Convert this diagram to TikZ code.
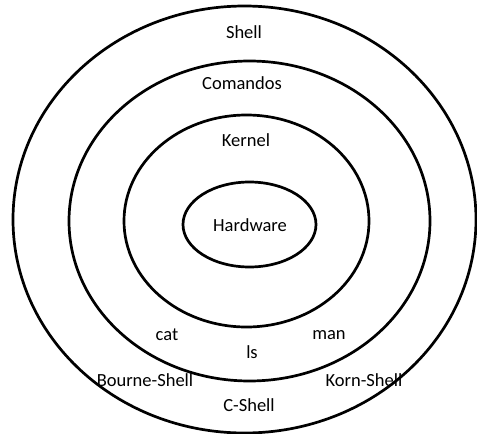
\documentclass[tikz,border=0pt]{standalone}
\usepackage{fontspec}
\setmainfont{Carlito}
\begin{document}
\begin{tikzpicture}[x=1pt,y=-1pt,
  ring/.style={draw=black,line width=2.7pt},
  lbl/.style={font=\fontsize{18.5}{20}\selectfont,inner sep=0pt,anchor=center}]
\useasboundingbox (0,0) rectangle (477,434);
\draw[ring] (244.5,219.5) ellipse [x radius=231.5, y radius=213.5];
\draw[ring] (249.5,221) ellipse [x radius=180.5, y radius=160];
\draw[ring] (246.5,221) ellipse [x radius=122.5, y radius=106];
\draw[ring] (249.5,224.5) ellipse [x radius=66.5, y radius=42.5];
\node[lbl] (shell) at (244,32) {Shell};
\node[lbl] (comandos) at (242,83) {Comandos};
\node[lbl] (kernel) at (246,140) {Kernel};
\node[lbl] (hw) at (250,225) {Hardware};
\node[lbl] (cat) at (167,335) {cat};
\node[lbl] (man) at (329,335) {man};
\node[lbl] (ls) at (252,352) {ls};
\node[lbl] (bourne) at (145,380) {Bourne-Shell};
\node[lbl] (korn) at (364,380) {Korn-Shell};
\node[lbl] (cshell) at (249,405) {C-Shell};
\end{tikzpicture}
\end{document}
